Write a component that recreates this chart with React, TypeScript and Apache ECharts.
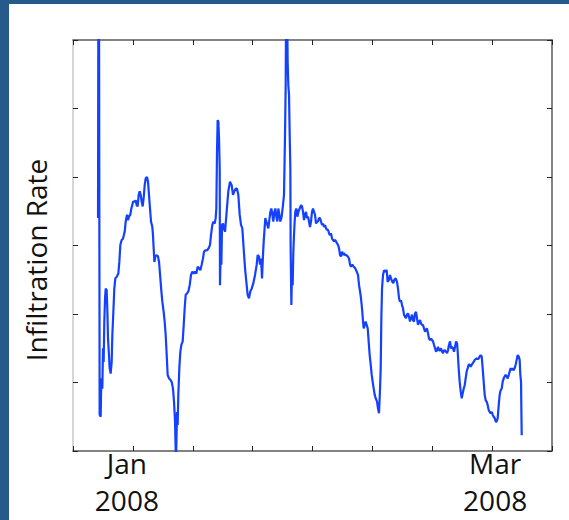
import { useEffect, useRef } from "react";
import * as echarts from "echarts";

// x = days relative to 1 Jan 2008, y = infiltration rate (unitless axis, 0..6)
const xMin = -10;
const xMax = 70;
const xStep = 10;
const yMin = 0;
const yMax = 6;
const yStep = 1;
const tickLabels: Record<number, string[]> = { 0: ["Jan", "2008"], 60: ["Mar", "2008"] };

const segmentDecJan: [number, number][] = [
  [-5.82, 3.4], [-5.75, 7.5], [-5.66, 7.0], [-5.55, 0.53], [-5.38, 0.5], [-5.27, 1.06], [-5.1, 0.91],
  [-4.99, 1.5], [-4.88, 1.3], [-4.77, 1.89], [-4.65, 2.23], [-4.54, 2.37], [-4.38, 2.35], [-4.27, 2.08],
  [-4.15, 1.64], [-3.99, 1.4], [-3.88, 1.21], [-3.71, 1.13], [-3.54, 1.3], [-3.43, 1.69], [-3.26, 2.03],
  [-3.1, 2.37], [-2.93, 2.52], [-2.65, 2.55], [-2.43, 2.59], [-2.26, 2.76], [-2.09, 3.01], [-1.87, 3.08],
  [-1.65, 3.1], [-1.37, 3.2], [-1.2, 3.35], [-0.98, 3.45], [-0.81, 3.37], [-0.65, 3.42], [-0.42, 3.45],
  [-0.26, 3.54], [-0.09, 3.59], [0.02, 3.64], [0.3, 3.64], [0.47, 3.66], [0.63, 3.59], [0.8, 3.57],
  [0.97, 3.74], [1.14, 3.79], [1.3, 3.74], [1.47, 3.64], [1.64, 3.57], [1.8, 3.69], [1.97, 3.88],
  [2.14, 3.98], [2.36, 4.0], [2.53, 3.93], [2.69, 3.74], [2.86, 3.54], [3.03, 3.35], [3.25, 3.27],
  [3.36, 3.15], [3.47, 2.96], [3.59, 2.76], [3.75, 2.84], [3.92, 2.86], [4.2, 2.84], [4.37, 2.76],
  [4.59, 2.52], [4.76, 2.33], [4.92, 2.18], [5.14, 2.03], [5.31, 1.89], [5.48, 1.69], [5.65, 1.4],
  [5.81, 1.11], [6.04, 1.06], [6.26, 1.04], [6.48, 1.01], [6.7, 0.91], [6.87, 0.72], [7.04, 0.43],
  [7.2, -0.2], [7.37, 0.57], [7.48, 0.38], [7.59, 0.82], [7.76, 1.21], [7.93, 1.45], [8.1, 1.55],
  [8.32, 1.6], [8.49, 1.84], [8.65, 2.08], [8.82, 2.28], [9.04, 2.3], [9.27, 2.33], [9.49, 2.42],
  [9.71, 2.57], [9.93, 2.62], [10.16, 2.59], [10.38, 2.62], [10.6, 2.59], [10.82, 2.69], [11.05, 2.67],
  [11.27, 2.64], [11.49, 2.72], [11.71, 2.81], [11.88, 2.91], [12.1, 2.93], [12.38, 2.93], [12.66, 2.96],
  [12.88, 3.01], [13.05, 3.15], [13.27, 3.3], [13.44, 3.35], [13.66, 3.32], [13.83, 3.4], [13.94, 3.54],
  [14.05, 4.37], [14.16, 4.83], [14.28, 4.81], [14.39, 4.56], [14.5, 4.13], [14.55, 2.42], [14.67, 2.96],
  [14.78, 2.72], [14.89, 3.3], [15.06, 3.32], [15.22, 3.25],
];

const segmentJanFeb: [number, number][] = [
  [15.39, 3.2], [15.66, 3.49], [15.94, 3.79], [16.22, 3.93], [16.5, 3.88], [16.72, 3.74], [16.95, 3.79],
  [17.17, 3.83], [17.39, 3.83], [17.61, 3.74], [17.84, 3.45], [18.06, 3.3], [18.28, 3.25], [18.5, 2.96],
  [18.73, 2.67], [18.95, 2.47], [19.17, 2.28], [19.39, 2.23], [19.62, 2.33], [19.84, 2.37], [20.12, 2.45],
  [20.4, 2.57], [20.68, 2.72], [20.84, 2.86], [21.07, 2.84], [21.23, 2.72], [21.4, 2.81], [21.57, 2.52],
  [21.73, 2.86], [21.85, 3.06], [21.96, 3.2], [22.12, 3.4], [22.29, 3.35], [22.46, 3.3], [22.62, 3.25],
  [22.79, 3.37], [22.96, 3.49], [23.13, 3.54], [23.29, 3.45], [23.46, 3.35], [23.63, 3.49], [23.79, 3.54],
  [23.96, 3.42], [24.13, 3.35], [24.29, 3.54], [24.46, 3.45], [24.63, 3.35], [24.85, 3.42], [25.07, 3.59],
  [25.24, 3.74], [25.41, 4.61], [25.52, 5.34], [25.63, 7.0], [25.74, 6.6], [25.85, 5.68], [25.96, 5.34],
  [26.08, 5.2], [26.19, 4.61], [26.3, 4.13], [26.35, 2.96], [26.47, 2.13], [26.58, 2.67], [26.69, 2.42],
  [26.8, 2.91], [26.91, 3.15], [27.02, 3.35], [27.13, 3.49], [27.3, 3.54], [27.47, 3.42], [27.64, 3.49],
  [27.86, 3.54], [28.08, 3.59], [28.25, 3.57], [28.42, 3.49], [28.58, 3.37], [28.75, 3.45], [28.92, 3.49],
  [29.08, 3.4], [29.25, 3.42], [29.42, 3.35], [29.58, 3.27], [29.75, 3.35], [29.92, 3.49], [30.09, 3.54],
  [30.25, 3.49], [30.42, 3.45], [30.59, 3.32], [30.75, 3.35], [30.92, 3.35], [31.09, 3.4], [31.25, 3.4],
  [31.42, 3.35], [31.59, 3.3], [31.76, 3.32], [31.92, 3.27], [32.09, 3.3], [32.26, 3.25], [32.42, 3.23],
  [32.59, 3.23], [32.76, 3.18], [32.92, 3.15], [33.09, 3.18], [33.26, 3.1], [33.43, 3.08], [33.59, 3.06],
  [33.76, 3.08], [33.93, 3.06], [34.09, 3.03], [34.26, 3.01], [34.43, 2.96], [34.6, 2.86], [34.76, 2.84],
  [34.93, 2.91], [35.1, 2.86], [35.26, 2.89], [35.43, 2.86], [35.65, 2.86], [35.88, 2.84], [36.1, 2.81],
  [36.27, 2.72], [36.43, 2.69], [36.66, 2.72], [36.88, 2.69], [37.1, 2.67], [37.38, 2.62], [37.6, 2.57],
  [37.77, 2.42], [37.94, 2.33], [38.1, 2.23], [38.27, 2.08], [38.44, 1.89], [38.55, 1.79], [38.72, 1.84],
  [38.88, 1.89], [39.05, 1.84], [39.22, 1.79], [39.38, 1.6], [39.55, 1.4], [39.72, 1.26], [39.89, 1.11],
  [40.05, 1.01], [40.22, 0.91], [40.39, 0.82], [40.55, 0.77], [40.78, 0.72], [40.94, 0.62], [41.11, 0.55],
  [41.28, 0.91], [41.39, 1.21], [41.5, 1.94], [41.61, 2.37], [41.78, 2.57], [41.95, 2.64],
];

const segmentFebMar: [number, number][] = [
  [42.11, 2.62], [42.39, 2.64], [42.55, 2.47], [42.78, 2.5], [42.94, 2.57], [43.11, 2.52], [43.33, 2.47],
  [43.5, 2.45], [43.67, 2.5], [43.89, 2.52], [44.11, 2.47], [44.28, 2.37], [44.45, 2.23], [44.61, 2.18],
  [44.78, 2.2], [44.95, 2.13], [45.12, 2.08], [45.28, 1.99], [45.45, 1.96], [45.62, 1.94], [45.78, 1.99],
  [45.95, 2.01], [46.12, 1.96], [46.28, 1.89], [46.45, 1.94], [46.62, 1.99], [46.79, 1.91], [46.95, 1.89],
  [47.12, 2.01], [47.29, 2.03], [47.45, 1.94], [47.62, 1.84], [47.79, 1.89], [47.96, 1.91], [48.12, 1.86],
  [48.29, 1.84], [48.46, 1.84], [48.62, 1.79], [48.79, 1.74], [48.96, 1.77], [49.12, 1.79], [49.29, 1.72],
  [49.46, 1.64], [49.63, 1.62], [49.79, 1.64], [49.96, 1.62], [50.13, 1.6], [50.29, 1.55], [50.46, 1.5],
  [50.63, 1.45], [50.79, 1.47], [50.96, 1.52], [51.13, 1.47], [51.3, 1.47], [51.46, 1.5], [51.63, 1.45],
  [51.8, 1.43], [51.96, 1.47], [52.13, 1.47], [52.3, 1.45], [52.47, 1.43], [52.63, 1.47], [52.8, 1.55],
  [52.97, 1.6], [53.13, 1.5], [53.3, 1.52], [53.47, 1.5], [53.63, 1.45], [53.8, 1.52], [53.97, 1.6],
  [54.14, 1.57], [54.25, 1.45], [54.41, 1.21], [54.58, 1.01], [54.75, 0.87], [54.92, 0.77], [55.08, 0.84],
  [55.25, 0.91], [55.42, 0.96], [55.58, 1.06], [55.75, 1.16], [55.92, 1.21], [56.08, 1.26], [56.25, 1.26],
  [56.42, 1.23], [56.59, 1.26], [56.75, 1.28], [56.92, 1.3], [57.09, 1.33], [57.25, 1.34], [57.42, 1.35],
  [57.59, 1.34], [57.75, 1.35], [57.92, 1.38], [58.09, 1.4], [58.26, 1.38], [58.42, 1.21], [58.59, 1.01],
  [58.76, 0.82], [58.92, 0.74], [59.09, 0.72], [59.26, 0.67], [59.42, 0.6], [59.59, 0.57], [59.76, 0.55],
  [59.93, 0.57], [60.09, 0.53], [60.26, 0.5], [60.43, 0.48], [60.59, 0.43], [60.76, 0.43], [60.93, 0.48],
  [61.1, 0.67], [61.26, 0.82], [61.43, 0.89], [61.6, 0.91], [61.76, 1.01], [61.93, 1.06], [62.1, 1.09],
  [62.26, 1.11], [62.43, 1.09], [62.6, 1.06], [62.77, 1.11], [62.93, 1.16], [63.1, 1.21], [63.27, 1.18],
  [63.43, 1.21], [63.6, 1.18], [63.77, 1.21], [63.93, 1.26], [64.1, 1.33], [64.27, 1.4], [64.44, 1.38],
  [64.6, 1.33], [64.71, 1.11], [64.83, 1.01], [64.88, 0.62], [64.94, 0.23],
];

const FONT = "'Open Sans', 'Noto Sans', sans-serif";

export default function App() {
  const ref = useRef<HTMLDivElement>(null);

  useEffect(() => {
    if (!ref.current) return;
    const chart = echarts.init(ref.current, null, { renderer: "svg" });
    const data = [...segmentDecJan, ...segmentJanFeb, ...segmentFebMar];
    const darkLine = { color: "#5a5a5a", width: 1.5 };
    const tick = { show: true, inside: true, length: 5, lineStyle: { color: "#222", width: 1 } };

    chart.setOption({
      animation: false,
      backgroundColor: "#ffffff",
      grid: { left: 73, right: 17, top: 40, bottom: 69, containLabel: false },
      graphic: [
        { type: "rect", z: -10, shape: { x: 0, y: 0, width: 569, height: 4 }, style: { fill: "#265a8a" } },
        { type: "rect", z: -10, shape: { x: 0, y: 0, width: 9, height: 520 }, style: { fill: "#265a8a" } },
        {
          type: "text",
          x: 36,
          y: 260,
          rotation: Math.PI / 2,
          style: {
            text: "Infiltration Rate",
            font: `28px ${FONT}`,
            fill: "#111",
            align: "center",
            verticalAlign: "middle",
          },
        },
      ],
      xAxis: [
        {
          type: "value",
          min: xMin,
          max: xMax,
          interval: xStep,
          position: "bottom",
          axisLine: { show: true, onZero: false, lineStyle: darkLine },
          axisTick: tick,
          splitLine: { show: false },
          axisLabel: {
            show: true,
            margin: -7,
            interval: 0,
            formatter: (v: number) => {
              const l = tickLabels[v];
              if (!l) return "";
              const s = v === 0 ? "j" : "m";
              return `{${s}|${l[0]}}\n{${s}|${l[1]}}`;
            },
            rich: {
              j: { fontSize: 28, fontFamily: FONT, color: "#111", lineHeight: 37, padding: [0, 12, 0, 0] },
              m: { fontSize: 28, fontFamily: FONT, color: "#111", lineHeight: 37, padding: [0, 0, 0, 6] },
            },
          },
        },
        {
          type: "value",
          min: xMin,
          max: xMax,
          interval: xStep,
          position: "top",
          axisLine: { show: true, onZero: false, lineStyle: darkLine },
          axisTick: tick,
          splitLine: { show: false },
          axisLabel: { show: false },
        },
      ],
      yAxis: [
        {
          type: "value",
          min: yMin,
          max: yMax,
          interval: yStep,
          position: "left",
          axisLine: { show: true, onZero: false, lineStyle: { color: "#c8c8c8", width: 1.5 } },
          axisTick: tick,
          splitLine: { show: false },
          axisLabel: { show: false },
        },
        {
          type: "value",
          min: yMin,
          max: yMax,
          interval: yStep,
          position: "right",
          axisLine: { show: true, onZero: false, lineStyle: darkLine },
          axisTick: tick,
          splitLine: { show: false },
          axisLabel: { show: false },
        },
      ],
      series: [
        {
          type: "line",
          xAxisIndex: 0,
          yAxisIndex: 0,
          data,
          showSymbol: false,
          symbol: "none",
          clip: true,
          lineStyle: { color: "#1440ff", width: 2.2 },
          emphasis: { disabled: true },
        },
      ],
    });
    return () => chart.dispose();
  }, []);

  return (
    <div
      ref={ref}
      style={{ position: "fixed", left: 0, top: 0, width: 569, height: 520, background: "#fff" }}
    />
  );
}
